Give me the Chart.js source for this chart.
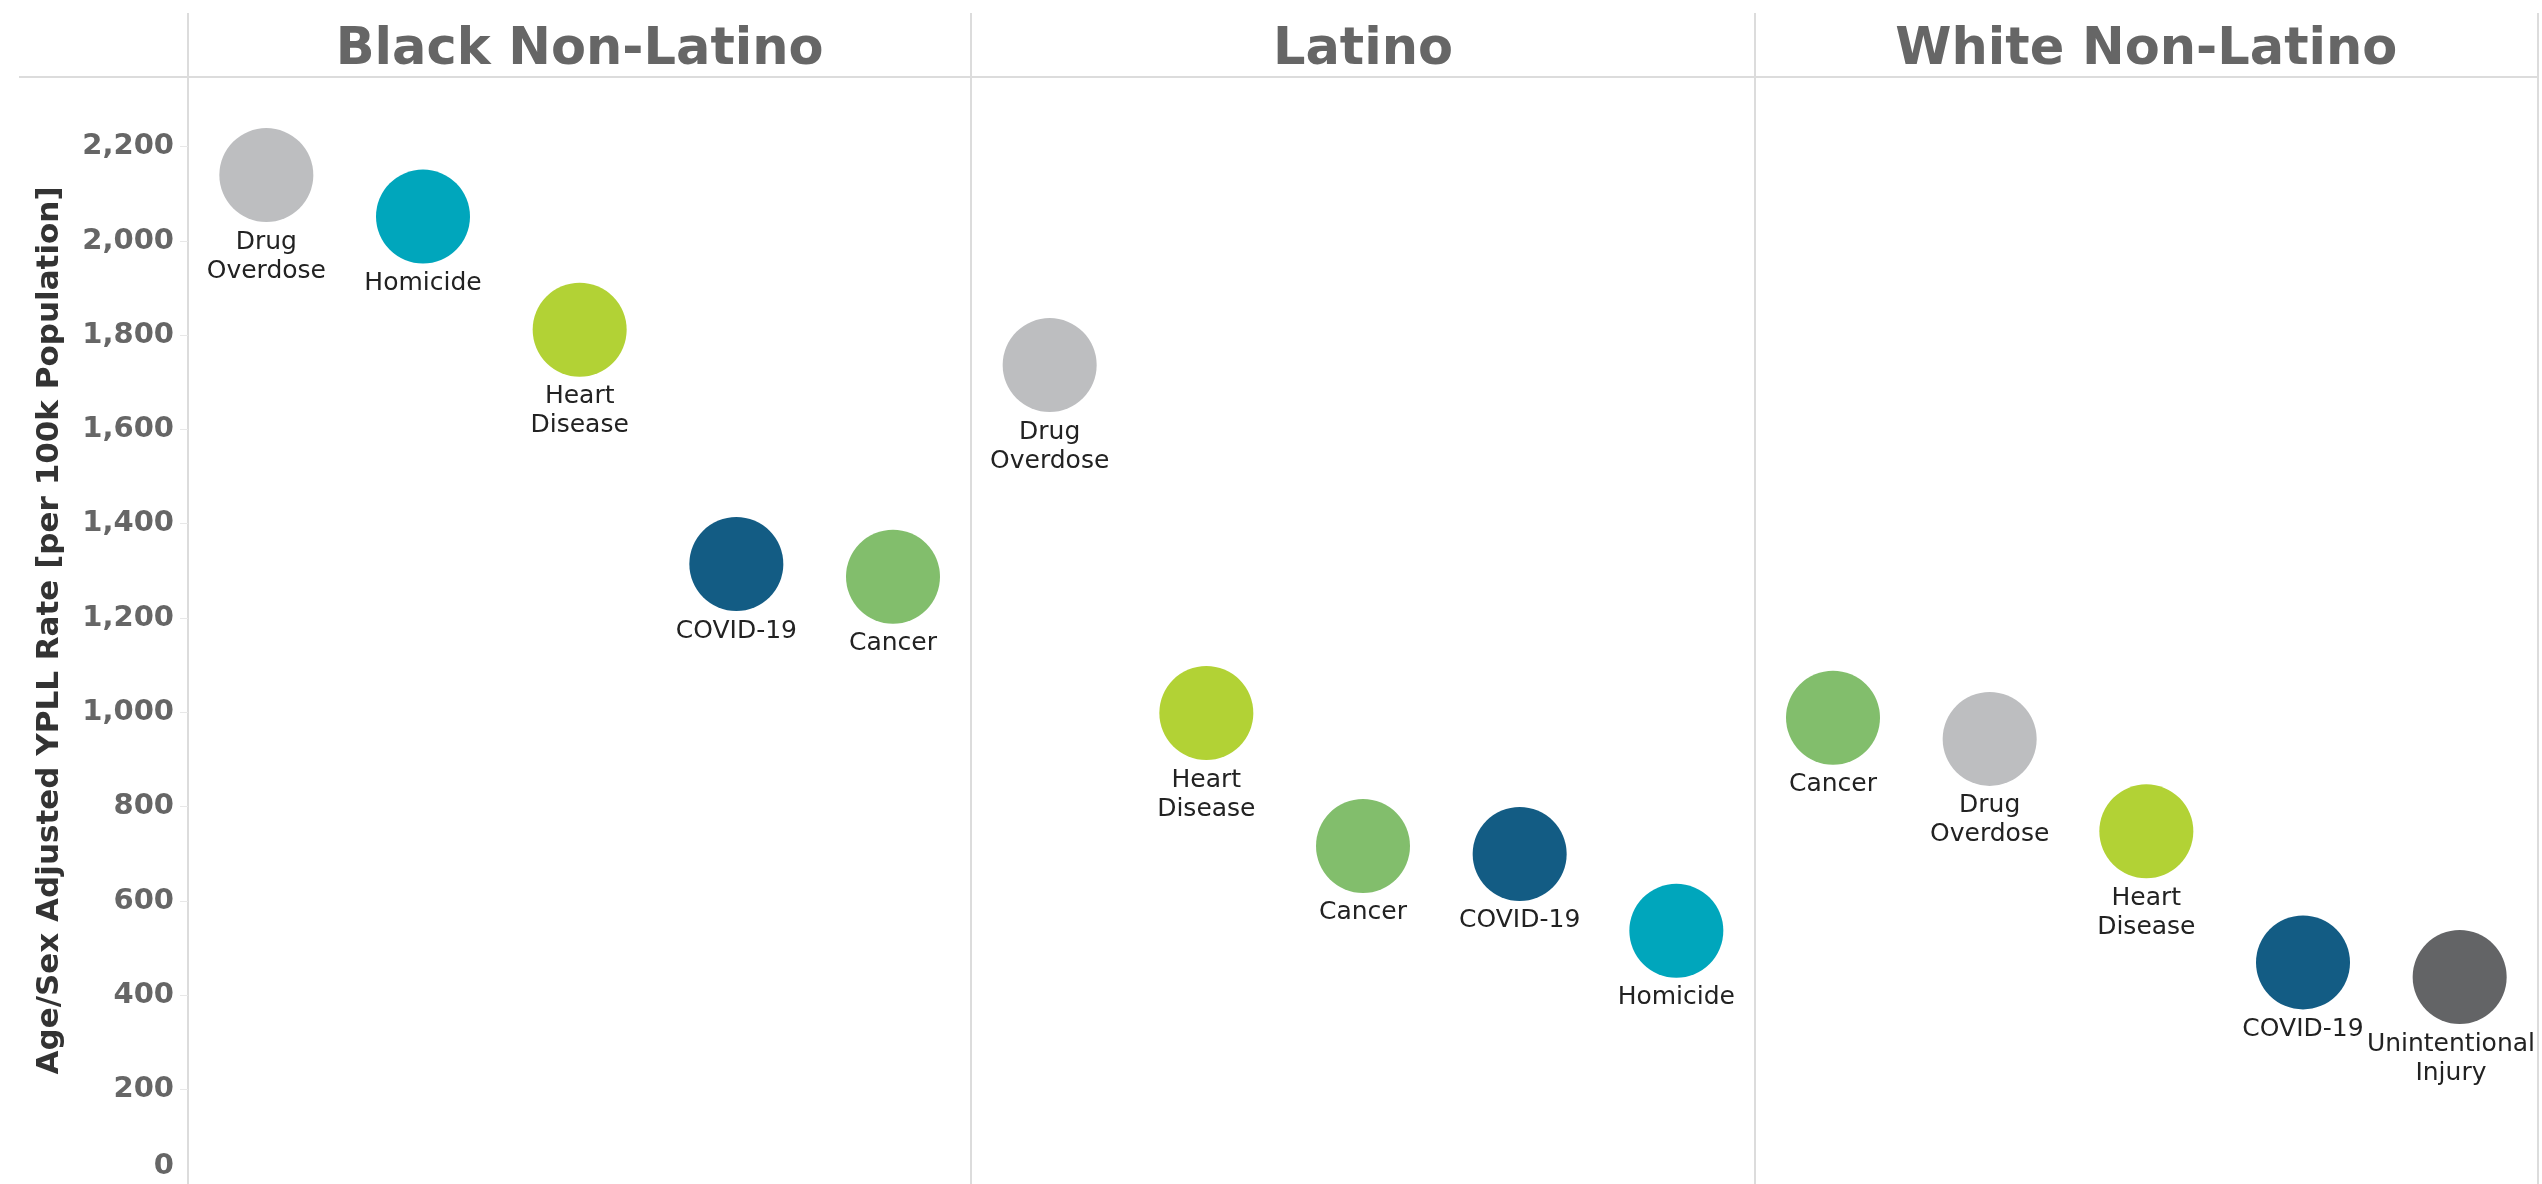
<!DOCTYPE html>
<html>
<head>
<meta charset="utf-8">
<script src="https://cdn.jsdelivr.net/npm/chart.js@4/dist/chart.umd.min.js"></script>
<style>
  html, body { margin: 0; padding: 0; background: #fff; }
  #wrap { width: 2542px; height: 1184px; }
</style>
</head>
<body>
<div id="wrap"><canvas id="yplChart" width="2542" height="1184"></canvas></div>
<script>
// groups (panels) and the causes inside each one, in display order
const groups = ['Black Non-Latino', 'Latino', 'White Non-Latino'];

const blackCauses = ['Drug Overdose', 'Homicide', 'Heart Disease', 'COVID-19', 'Cancer'];
const blackRates = [2140, 2052, 1812, 1315, 1288];

const latinoCauses = ['Drug Overdose', 'Heart Disease', 'Cancer', 'COVID-19', 'Homicide'];
const latinoRates = [1737, 999, 717, 700, 537];

const whiteCauses = ['Cancer', 'Drug Overdose', 'Heart Disease', 'COVID-19', 'Unintentional Injury'];
const whiteRates = [989, 944, 748, 470, 439];

const yTicks = [0, 200, 400, 600, 800, 1000, 1200, 1400, 1600, 1800, 2000, 2200];

const causeColors = {
    'Drug Overdose': '#bdbec0',
    'Homicide': '#00a6bc',
    'Heart Disease': '#b2d235',
    'COVID-19': '#135c84',
    'Cancer': '#82be6c',
    'Unintentional Injury': '#636466'
};

const FONT = '"DejaVu Sans", Verdana, sans-serif';
const LINE = '#dcdcdc';
const slotsPerGroup = 5;

// build one scatter dataset per panel
function makeDataset(g, causes, rates) {
    return {
        label: groups[g],
        causes: causes,
        data: rates.map((v, i) => ({ x: g * slotsPerGroup + i + 0.5, y: v })),
        backgroundColor: causes.map(c => causeColors[c]),
        borderWidth: 0,
        pointRadius: 47,
        pointHoverRadius: 47
    };
}

// labels under each circle, kept inside the plot on the right
const pointLabels = {
    id: 'pointLabels',
    afterDatasetsDraw(chart) {
        const ctx = chart.ctx;
        const right = chart.chartArea.right - 3;
        ctx.save();
        ctx.font = '25px ' + FONT;
        ctx.fillStyle = '#222';
        ctx.textAlign = 'center';
        ctx.textBaseline = 'middle';
        chart.data.datasets.forEach((ds, i) => {
            chart.getDatasetMeta(i).data.forEach((pt, j) => {
                const lines = ds.causes[j].split(' ');
                const w = Math.max(...lines.map(l => ctx.measureText(l).width));
                const cx = Math.min(pt.x, right - w / 2);
                lines.forEach((line, k) => {
                    ctx.fillText(line, cx, pt.y + ds.pointRadius + 20 + k * 29);
                });
            });
        });
        ctx.restore();
    }
};

// header rule continues left of the axis
const headerRule = {
    id: 'headerRule',
    beforeDatasetsDraw(chart) {
        const { ctx, chartArea } = chart;
        ctx.save();
        ctx.strokeStyle = LINE;
        ctx.lineWidth = 2;
        ctx.beginPath();
        ctx.moveTo(19, chartArea.top);
        ctx.lineTo(chartArea.left, chartArea.top);
        ctx.stroke();
        ctx.restore();
    }
};

Chart.defaults.font.family = FONT;

new Chart(document.getElementById('yplChart'), {
    type: 'scatter',
    data: {
        datasets: [
            makeDataset(0, blackCauses, blackRates),
            makeDataset(1, latinoCauses, latinoRates),
            makeDataset(2, whiteCauses, whiteRates)
        ]
    },
    options: {
        responsive: false,
        animation: false,
        clip: false,
        layout: { autoPadding: false, padding: { left: 31, right: 4, top: 0, bottom: 0 } },
        plugins: {
            legend: { display: false },
            tooltip: { enabled: false }
        },
        scales: {
            x: {
                type: 'linear',
                min: 0,
                max: groups.length * slotsPerGroup,
                display: false
            },
            x2: {
                type: 'category',
                labels: groups,
                position: 'top',
                offset: true,
                grid: { offset: true, color: LINE, lineWidth: 2, tickLength: 64, drawOnChartArea: true },
                border: { display: true, color: LINE, width: 2 },
                ticks: {
                    autoSkip: false,
                    maxRotation: 0,
                    padding: -63,
                    color: '#666',
                    font: { size: 51, weight: 'bold', lineHeight: 1 }
                },
                afterFit(scale) {
                    scale.height = 77;
                    scale.paddingLeft = 0;
                    scale.paddingRight = 0;
                }
            },
            y: {
                type: 'linear',
                min: 0,
                max: 2348,
                afterBuildTicks(scale) {
                    scale.ticks = yTicks.map(v => ({ value: v }));
                },
                afterFit(scale) {
                    scale.width = 188 - 31;
                    scale.paddingTop = 0;
                    scale.paddingBottom = 0;
                },
                grid: { drawOnChartArea: false, color: '#e8e8e8', lineWidth: 1, tickLength: 8 },
                border: { display: false },
                ticks: {
                    padding: 6,
                    color: '#666',
                    font: { size: 29, weight: 'bold' },
                    callback: (v) => v === 0 ? ['0', ''] : v.toLocaleString('en-US')
                },
                title: {
                    display: true,
                    text: 'Age/Sex Adjusted YPLL Rate [per 100k Population]',
                    color: '#333',
                    padding: 0,
                    font: { size: 31, weight: 'bold' }
                }
            }
        }
    },
    plugins: [pointLabels, headerRule]
});
</script>
</body>
</html>
